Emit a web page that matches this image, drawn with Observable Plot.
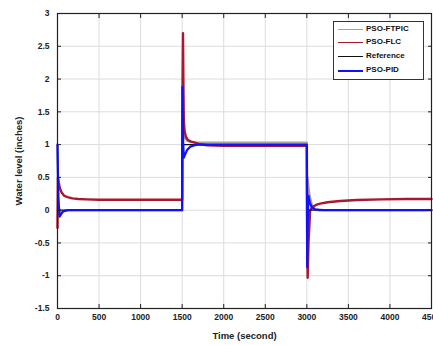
<!DOCTYPE html>
<html>
<head>
<meta charset="utf-8">
<script src="https://cdn.jsdelivr.net/npm/d3@7"></script>
<script src="https://cdn.jsdelivr.net/npm/@observablehq/plot@0.6"></script>
<style>
  html, body { margin: 0; padding: 0; background: #fff; }
  #wrap { position: relative; width: 433px; height: 345px; font-family: "Liberation Sans", Arial, sans-serif; }
  #legend { position: absolute; left: 333px; top: 21px; width: 89px; height: 57px; border: 1px solid #333; background: #fff; }
  .row { position: absolute; left: 0; height: 12px; width: 89px; }
  .row .ln { position: absolute; left: 4px; width: 25px; top: 6px; height: 0; }
  .row .tx { position: absolute; left: 32px; top: 0; font-size: 8px; font-weight: bold; line-height: 12px; color: #111; }
</style>
</head>
<body>
<div id="wrap"></div>
<script>
// ---- data ----
const xTicks = [0, 500, 1000, 1500, 2000, 2500, 3000, 3500, 4000, 4500];
const yTicks = [-1.5, -1, -0.5, 0, 0.5, 1, 1.5, 2, 2.5, 3];
const seriesNames = ["PSO-FTPIC", "PSO-FLC", "Reference", "PSO-PID"];
const seriesColors = ["#a3a3a3", "#a8182e", "#111111", "#1010ff"];

const refT = [0, 1500, 1500, 3000, 3000, 4500];
const refV = [0, 0, 1, 1, 0, 0];

const ftpicT = [0, 10, 30, 60, 100, 200, 1499, 1500, 1505, 1515, 1530, 1560, 1600, 1700, 2999, 3000, 3003, 3008, 3030, 3060, 3100, 3200, 4500];
const ftpicV = [1.0, 0.1, -0.05, -0.02, 0, 0, 0, 0, 1.5, 1.2, 1.1, 1.06, 1.04, 1.03, 1.03, 1.03, -0.6, 0.5, 0.25, 0.08, 0.02, 0, 0];

const flcT = [0, 5, 15, 30, 50, 80, 120, 180, 250, 350, 500, 800, 1100, 1499, 1500, 1505, 1510, 1515, 1520, 1530, 1545, 1570, 1600, 1650, 1700, 1800, 2000, 2500, 2999, 3000, 3005, 3010, 3020, 3040, 3070, 3110, 3160, 3250, 3400, 3600, 3900, 4200, 4500];
const flcV = [-0.27, 0.5, 0.42, 0.33, 0.27, 0.22, 0.2, 0.18, 0.17, 0.165, 0.16, 0.16, 0.16, 0.16, 0.16, 2.0, 2.7, 1.9, 1.35, 1.2, 1.12, 1.07, 1.05, 1.03, 1.01, 0.99, 0.98, 0.98, 0.98, 0.98, -0.5, -1.03, -0.5, 0.0, 0.05, 0.08, 0.1, 0.12, 0.14, 0.155, 0.165, 0.17, 0.17];

const pidT = [0, 10, 25, 40, 60, 90, 130, 200, 1499, 1500, 1503, 1510, 1520, 1535, 1560, 1600, 1650, 1700, 2999, 3000, 3004, 3008, 3020, 3035, 3060, 3100, 3150, 4500];
const pidV = [1.0, 0.2, -0.1, -0.07, -0.03, -0.01, 0, 0, 0, 0, 1.88, 1.1, 0.8, 0.85, 0.92, 0.97, 0.99, 1.0, 1.0, 1.0, -0.87, -0.3, 0.22, 0.12, 0.04, 0.01, 0, 0];

const toRows = (T, V) => T.map((t, i) => ({t, v: V[i]}));
const ftpic = toRows(ftpicT, ftpicV);
const flc = toRows(flcT, flcV);
const ref = toRows(refT, refV);
const pid = toRows(pidT, pidV);

const plain = d => String(d);

const chart = Plot.plot({
  width: 433,
  height: 345,
  marginLeft: 57,
  marginRight: 2,
  marginTop: 13,
  marginBottom: 37,
  style: {fontFamily: "'Liberation Sans', Arial, sans-serif", fontWeight: "bold", fontSize: "8.5px", color: "#222", background: "#fff"},
  x: {domain: [0, 4500]},
  y: {domain: [-1.5, 3]},
  marks: [
    Plot.gridX(xTicks, {stroke: "#dcdcdc", strokeOpacity: 1}),
    Plot.gridY(yTicks, {stroke: "#dcdcdc", strokeOpacity: 1}),
    Plot.line(ftpic, {x: "t", y: "v", stroke: seriesColors[0], strokeWidth: 2.2}),
    Plot.line(flc, {x: "t", y: "v", stroke: seriesColors[1], strokeWidth: 2.4}),
    Plot.line(ref, {x: "t", y: "v", stroke: seriesColors[2], strokeWidth: 1.3}),
    Plot.line(pid, {x: "t", y: "v", stroke: seriesColors[3], strokeWidth: 2.2}),
    Plot.frame({stroke: "#222", strokeWidth: 1.2}),
    // inward tick marks on all four sides
    Plot.axisX(xTicks, {anchor: "bottom", tickSize: -4, tickFormat: () => "", label: null, stroke: "#222"}),
    Plot.axisX(xTicks, {anchor: "top", tickSize: -4, tickFormat: () => "", label: null, stroke: "#222"}),
    Plot.axisY(yTicks, {anchor: "left", tickSize: -4, tickFormat: () => "", label: null, stroke: "#222"}),
    Plot.axisY(yTicks, {anchor: "right", tickSize: -4, tickFormat: () => "", label: null, stroke: "#222"}),
    // labels
    Plot.axisX(xTicks, {anchor: "bottom", tickSize: 0, tickPadding: 5, tickFormat: plain, label: "Time (second)", labelAnchor: "center", labelArrow: "none", labelOffset: 30, fontSize: 8.5}),
    Plot.axisY(yTicks, {anchor: "left", tickSize: 0, tickPadding: 8, tickFormat: plain, label: "Water level (inches)", labelAnchor: "center", labelArrow: "none", labelOffset: 42, fontSize: 8.5}),
  ]
});

// enlarge axis titles a bit
chart.querySelectorAll("text").forEach(t => {
  if (t.textContent === "Time (second)" || t.textContent === "Water level (inches)") t.setAttribute("font-size", "9.5");
});

const wrap = document.getElementById("wrap");
wrap.appendChild(chart);

// legend
const legend = document.createElement("div");
legend.id = "legend";
const rowTops = [1, 14, 28, 42];
seriesNames.forEach((name, i) => {
  const row = document.createElement("div");
  row.className = "row";
  row.style.top = rowTops[i] + "px";
  const ln = document.createElement("div");
  ln.className = "ln";
  ln.style.borderTop = (i === 3 ? 2 : 1.3) + "px solid " + seriesColors[i];
  const tx = document.createElement("div");
  tx.className = "tx";
  tx.textContent = name;
  row.appendChild(ln);
  row.appendChild(tx);
  legend.appendChild(row);
});
wrap.appendChild(legend);
</script>
</body>
</html>
